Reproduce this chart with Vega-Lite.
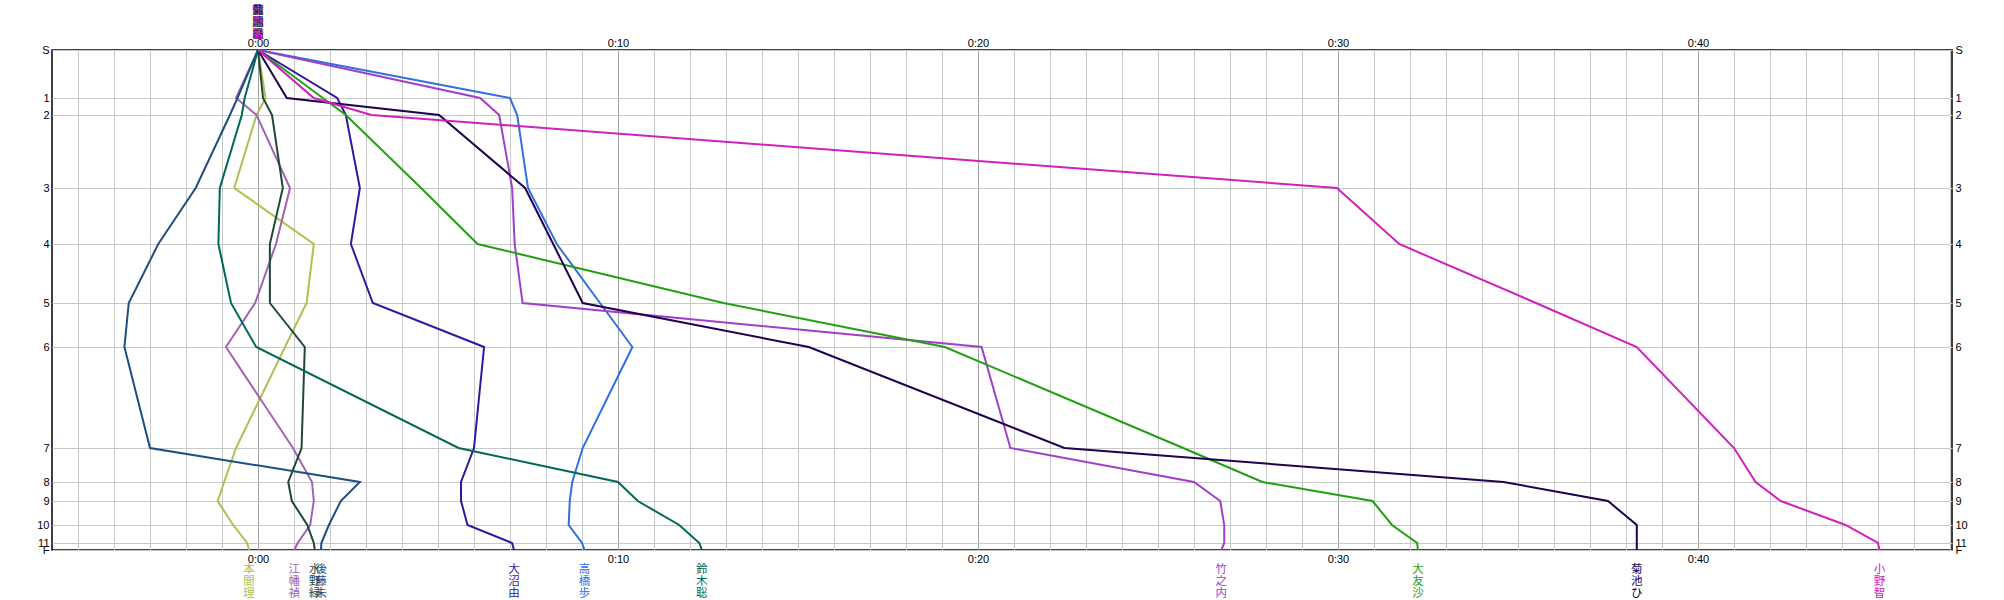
{
  "$schema": "https://vega.github.io/schema/vega-lite/v6.json",
  "width": 1900,
  "height": 500,
  "autosize": {"type": "none"},
  "padding": {"left": 52, "top": 50, "right": 52, "bottom": 50},
  "background": "white",
  "config": {
    "view": {"stroke": "#000000", "strokeWidth": 1.5},
    "axis": {"domain": false, "ticks": false, "labelFont": "Liberation Sans", "labelFontSize": 11, "labelColor": "#000000", "title": null, "labelOverlap": false, "labelFlush": false}
  },
  "datasets": {
    "controls": [
      {"c": "S", "i": 0, "d": 0}, {"c": "1", "i": 1, "d": 48}, {"c": "2", "i": 2, "d": 65},
      {"c": "3", "i": 3, "d": 138}, {"c": "4", "i": 4, "d": 194}, {"c": "5", "i": 5, "d": 253},
      {"c": "6", "i": 6, "d": 297}, {"c": "7", "i": 7, "d": 398}, {"c": "8", "i": 8, "d": 432},
      {"c": "9", "i": 9, "d": 451}, {"c": "10", "i": 10, "d": 475}, {"c": "11", "i": 11, "d": 493},
      {"c": "F", "i": 12, "d": 500}
    ],
    "runs": [
      {"r": "本間理", "c": "S", "t": 0}, {"r": "本間理", "c": "1", "t": 0.21}, {"r": "本間理", "c": "2", "t": -0.04}, {"r": "本間理", "c": "3", "t": -0.66}, {"r": "本間理", "c": "4", "t": 1.55}, {"r": "本間理", "c": "5", "t": 1.35}, {"r": "本間理", "c": "6", "t": 0.75}, {"r": "本間理", "c": "7", "t": -0.61}, {"r": "本間理", "c": "8", "t": -0.94}, {"r": "本間理", "c": "9", "t": -1.12}, {"r": "本間理", "c": "10", "t": -0.69}, {"r": "本間理", "c": "11", "t": -0.3}, {"r": "本間理", "c": "F", "t": -0.25},
      {"r": "江幡禎", "c": "S", "t": 0}, {"r": "江幡禎", "c": "1", "t": -0.61}, {"r": "江幡禎", "c": "2", "t": -0.04}, {"r": "江幡禎", "c": "3", "t": 0.89}, {"r": "江幡禎", "c": "4", "t": 0.5}, {"r": "江幡禎", "c": "5", "t": -0.08}, {"r": "江幡禎", "c": "6", "t": -0.89}, {"r": "江幡禎", "c": "7", "t": 0.97}, {"r": "江幡禎", "c": "8", "t": 1.5}, {"r": "江幡禎", "c": "9", "t": 1.55}, {"r": "江幡禎", "c": "10", "t": 1.45}, {"r": "江幡禎", "c": "11", "t": 1.1}, {"r": "江幡禎", "c": "F", "t": 1.01},
      {"r": "水野緑", "c": "S", "t": 0}, {"r": "水野緑", "c": "1", "t": 0.14}, {"r": "水野緑", "c": "2", "t": 0.39}, {"r": "水野緑", "c": "3", "t": 0.69}, {"r": "水野緑", "c": "4", "t": 0.33}, {"r": "水野緑", "c": "5", "t": 0.33}, {"r": "水野緑", "c": "6", "t": 1.3}, {"r": "水野緑", "c": "7", "t": 1.21}, {"r": "水野緑", "c": "8", "t": 0.84}, {"r": "水野緑", "c": "9", "t": 0.94}, {"r": "水野緑", "c": "10", "t": 1.37}, {"r": "水野緑", "c": "11", "t": 1.55}, {"r": "水野緑", "c": "F", "t": 1.58},
      {"r": "後藤未", "c": "S", "t": 0}, {"r": "後藤未", "c": "1", "t": -0.57}, {"r": "後藤未", "c": "2", "t": -0.78}, {"r": "後藤未", "c": "3", "t": -1.73}, {"r": "後藤未", "c": "4", "t": -2.77}, {"r": "後藤未", "c": "5", "t": -3.59}, {"r": "後藤未", "c": "6", "t": -3.71}, {"r": "後藤未", "c": "7", "t": -3.0}, {"r": "後藤未", "c": "8", "t": 2.83}, {"r": "後藤未", "c": "9", "t": 2.3}, {"r": "後藤未", "c": "10", "t": 1.97}, {"r": "後藤未", "c": "11", "t": 1.76}, {"r": "後藤未", "c": "F", "t": 1.75},
      {"r": "大沼由", "c": "S", "t": 0}, {"r": "大沼由", "c": "1", "t": 2.2}, {"r": "大沼由", "c": "2", "t": 2.44}, {"r": "大沼由", "c": "3", "t": 2.83}, {"r": "大沼由", "c": "4", "t": 2.58}, {"r": "大沼由", "c": "5", "t": 3.19}, {"r": "大沼由", "c": "6", "t": 6.28}, {"r": "大沼由", "c": "7", "t": 6.0}, {"r": "大沼由", "c": "8", "t": 5.64}, {"r": "大沼由", "c": "9", "t": 5.64}, {"r": "大沼由", "c": "10", "t": 5.82}, {"r": "大沼由", "c": "11", "t": 7.06}, {"r": "大沼由", "c": "F", "t": 7.11},
      {"r": "高橋歩", "c": "S", "t": 0}, {"r": "高橋歩", "c": "1", "t": 7.0}, {"r": "高橋歩", "c": "2", "t": 7.2}, {"r": "高橋歩", "c": "3", "t": 7.5}, {"r": "高橋歩", "c": "4", "t": 8.3}, {"r": "高橋歩", "c": "5", "t": 9.5}, {"r": "高橋歩", "c": "6", "t": 10.4}, {"r": "高橋歩", "c": "7", "t": 9.02}, {"r": "高橋歩", "c": "8", "t": 8.73}, {"r": "高橋歩", "c": "9", "t": 8.66}, {"r": "高橋歩", "c": "10", "t": 8.63}, {"r": "高橋歩", "c": "11", "t": 9.0}, {"r": "高橋歩", "c": "F", "t": 9.07},
      {"r": "鈴木聡", "c": "S", "t": 0}, {"r": "鈴木聡", "c": "1", "t": -0.37}, {"r": "鈴木聡", "c": "2", "t": -0.45}, {"r": "鈴木聡", "c": "3", "t": -1.06}, {"r": "鈴木聡", "c": "4", "t": -1.1}, {"r": "鈴木聡", "c": "5", "t": -0.75}, {"r": "鈴木聡", "c": "6", "t": -0.05}, {"r": "鈴木聡", "c": "7", "t": 5.57}, {"r": "鈴木聡", "c": "8", "t": 10.0}, {"r": "鈴木聡", "c": "9", "t": 10.55}, {"r": "鈴木聡", "c": "10", "t": 11.7}, {"r": "鈴木聡", "c": "11", "t": 12.26}, {"r": "鈴木聡", "c": "F", "t": 12.33},
      {"r": "竹之内", "c": "S", "t": 0}, {"r": "竹之内", "c": "1", "t": 6.17}, {"r": "竹之内", "c": "2", "t": 6.7}, {"r": "竹之内", "c": "3", "t": 7.06}, {"r": "竹之内", "c": "4", "t": 7.13}, {"r": "竹之内", "c": "5", "t": 7.35}, {"r": "竹之内", "c": "6", "t": 20.1}, {"r": "竹之内", "c": "7", "t": 20.9}, {"r": "竹之内", "c": "8", "t": 26.0}, {"r": "竹之内", "c": "9", "t": 26.73}, {"r": "竹之内", "c": "10", "t": 26.84}, {"r": "竹之内", "c": "11", "t": 26.84}, {"r": "竹之内", "c": "F", "t": 26.76},
      {"r": "大友沙", "c": "S", "t": 0}, {"r": "大友沙", "c": "1", "t": 1.8}, {"r": "大友沙", "c": "2", "t": 2.44}, {"r": "大友沙", "c": "3", "t": 4.53}, {"r": "大友沙", "c": "4", "t": 6.1}, {"r": "大友沙", "c": "5", "t": 12.93}, {"r": "大友沙", "c": "6", "t": 19.08}, {"r": "大友沙", "c": "7", "t": 25.7}, {"r": "大友沙", "c": "8", "t": 27.9}, {"r": "大友沙", "c": "9", "t": 30.96}, {"r": "大友沙", "c": "10", "t": 31.5}, {"r": "大友沙", "c": "11", "t": 32.2}, {"r": "大友沙", "c": "F", "t": 32.22},
      {"r": "菊池ひ", "c": "S", "t": 0}, {"r": "菊池ひ", "c": "1", "t": 0.8}, {"r": "菊池ひ", "c": "2", "t": 5.03}, {"r": "菊池ひ", "c": "3", "t": 7.42}, {"r": "菊池ひ", "c": "4", "t": 8.2}, {"r": "菊池ひ", "c": "5", "t": 9.02}, {"r": "菊池ひ", "c": "6", "t": 15.3}, {"r": "菊池ひ", "c": "7", "t": 22.4}, {"r": "菊池ひ", "c": "8", "t": 34.6}, {"r": "菊池ひ", "c": "9", "t": 37.5}, {"r": "菊池ひ", "c": "10", "t": 38.3}, {"r": "菊池ひ", "c": "11", "t": 38.3}, {"r": "菊池ひ", "c": "F", "t": 38.3},
      {"r": "小野智", "c": "S", "t": 0}, {"r": "小野智", "c": "1", "t": 1.55}, {"r": "小野智", "c": "2", "t": 3.15}, {"r": "小野智", "c": "3", "t": 29.97}, {"r": "小野智", "c": "4", "t": 31.7}, {"r": "小野智", "c": "5", "t": 35.5}, {"r": "小野智", "c": "6", "t": 38.3}, {"r": "小野智", "c": "7", "t": 41.0}, {"r": "小野智", "c": "8", "t": 41.6}, {"r": "小野智", "c": "9", "t": 42.3}, {"r": "小野智", "c": "10", "t": 44.1}, {"r": "小野智", "c": "11", "t": 45.0}, {"r": "小野智", "c": "F", "t": 45.04}
    ]
  },
  "data": {"name": "runs"},
  "transform": [
    {"lookup": "c", "from": {"data": {"name": "controls"}, "key": "c", "fields": ["i", "d"]}}
  ],
  "layer": [
    {
      "mark": {"type": "line", "strokeWidth": 2},
      "encoding": {
        "x": {
          "field": "t", "type": "quantitative",
          "scale": {"domain": [-5.722, 47.056], "nice": false, "zero": false},
          "axis": {
            "orient": "bottom",
            "values": [-5,-4,-3,-2,-1,0,1,2,3,4,5,6,7,8,9,10,11,12,13,14,15,16,17,18,19,20,21,22,23,24,25,26,27,28,29,30,31,32,33,34,35,36,37,38,39,40,41,42,43,44,45,46,47],
            "labelExpr": "datum.value % 10 === 0 ? '0:' + (datum.value < 10 ? '0' : '') + datum.value : ''",
            "grid": true,
            "gridColor": {"condition": {"test": "datum.value % 10 === 0", "value": "#a0a0a0"}, "value": "#c8c8c8"},
            "gridWidth": 1,
            "labelPadding": 3
          }
        },
        "y": {
          "field": "d", "type": "quantitative",
          "scale": {"domain": [0, 500], "reverse": true, "nice": false, "zero": false},
          "axis": {
            "orient": "left",
            "values": [0,48,65,138,194,253,297,398,432,451,475,493,500],
            "labelExpr": "['S','1','2','3','4','5','6','7','8','9','10','11','F'][indexof([0,48,65,138,194,253,297,398,432,451,475,493,500], datum.value)]",
            "grid": true, "gridColor": "#c8c8c8", "labelPadding": 3
          }
        },
        "color": {
          "field": "r", "type": "nominal",
          "scale": {
            "domain": ["本間理","江幡禎","水野緑","後藤未","大沼由","高橋歩","鈴木聡","竹之内","大友沙","菊池ひ","小野智"],
            "range": ["#b0c050","#a064b4","#204838","#1f4e80","#3018a0","#3070e0","#006858","#a040c8","#20a010","#200050","#d020c0"]
          },
          "legend": null
        },
        "order": {"field": "i", "type": "quantitative"}
      }
    },
    {
      "transform": [
        {"filter": "datum.c === 'S'"},
        {"calculate": "split(datum.r, '')", "as": "lines"}
      ],
      "mark": {"type": "text", "baseline": "top", "align": "center", "dy": -45, "font": "Noto Sans CJK JP", "fontSize": 11, "lineHeight": 12},
      "encoding": {
        "x": {
          "field": "t", "type": "quantitative",
          "axis": {
            "orient": "top", "values": [0,10,20,30,40],
            "labelExpr": "'0:' + (datum.value < 10 ? '0' : '') + datum.value",
            "grid": false, "labelPadding": 2
          }
        },
        "y": {
          "field": "d", "type": "quantitative",
          "axis": {
            "orient": "right",
            "values": [0,48,65,138,194,253,297,398,432,451,475,493,500],
            "labelExpr": "['S','1','2','3','4','5','6','7','8','9','10','11','F'][indexof([0,48,65,138,194,253,297,398,432,451,475,493,500], datum.value)]",
            "grid": false, "labelPadding": 3
          }
        },
        "color": {"field": "r", "type": "nominal", "legend": null},
        "text": {"field": "lines"}
      }
    },
    {
      "transform": [
        {"filter": "datum.c === 'F'"},
        {"calculate": "split(datum.r, '')", "as": "lines"}
      ],
      "mark": {"type": "text", "baseline": "top", "align": "center", "dy": 14, "font": "Noto Sans CJK JP", "fontSize": 11.5, "lineHeight": 12},
      "encoding": {
        "x": {"field": "t", "type": "quantitative", "axis": null},
        "y": {"field": "d", "type": "quantitative", "axis": null},
        "color": {"field": "r", "type": "nominal", "legend": null},
        "text": {"field": "lines"}
      }
    }
  ],
  "resolve": {"axis": {"x": "independent", "y": "independent"}}
}
